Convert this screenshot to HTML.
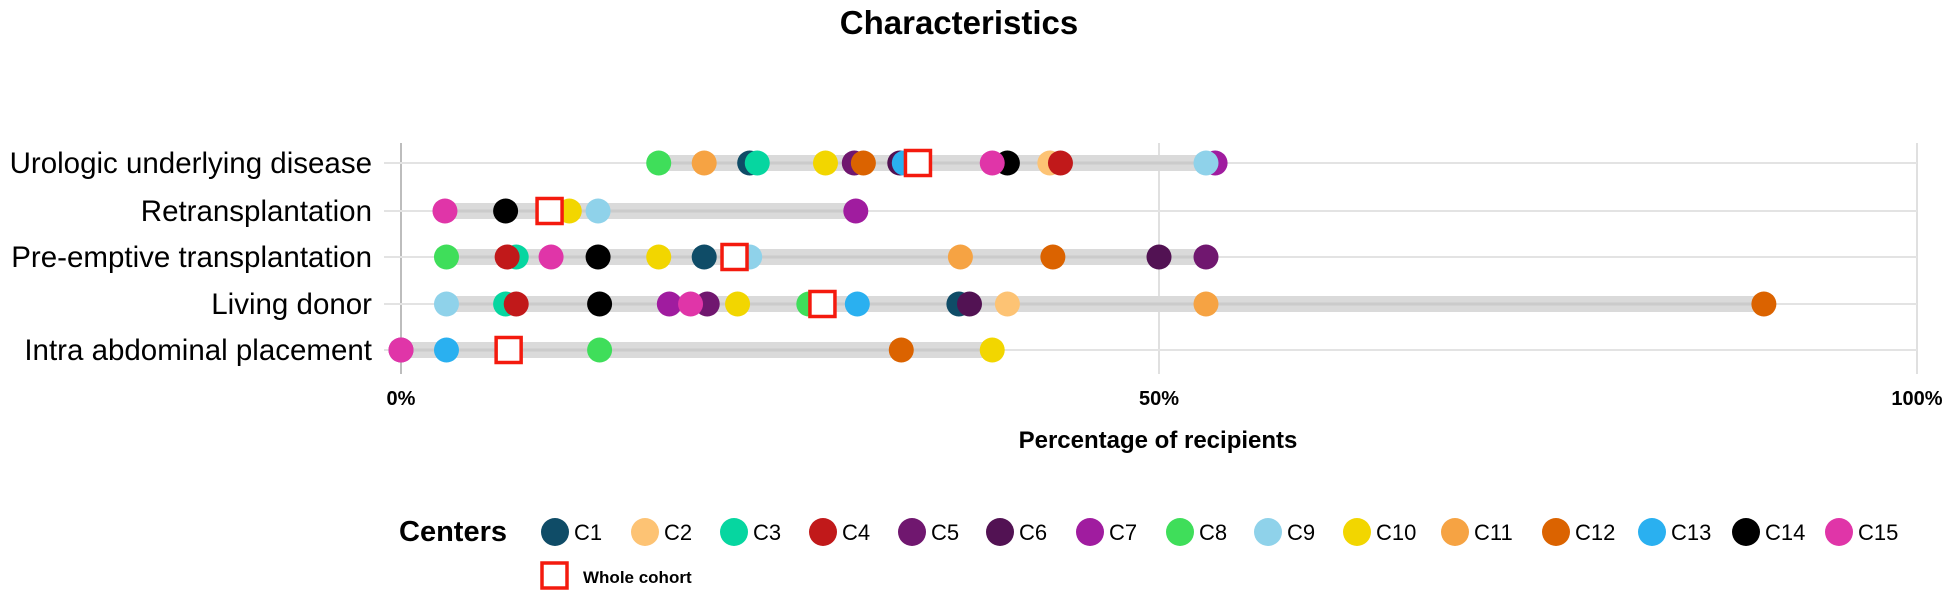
<!DOCTYPE html>
<html><head><meta charset="utf-8"><style>
html,body{margin:0;padding:0;background:#fff;}
svg{display:block;font-family:"Liberation Sans",sans-serif;}
</style></head><body>
<svg id="chart" width="1955" height="595" viewBox="0 0 1955 595" xmlns="http://www.w3.org/2000/svg">
<text x="959" y="34" text-anchor="middle" font-size="33" font-weight="bold">Characteristics</text>
<g id="grid"></g><g id="rows"></g><g id="legend"></g>
<text x="1158" y="448" text-anchor="middle" font-size="24" font-weight="bold">Percentage of recipients</text>
</svg>
<script>
const categories = ["Urologic underlying disease","Retransplantation","Pre-emptive transplantation","Living donor","Intra abdominal placement"];
const centers = ["C1","C2","C3","C4","C5","C6","C7","C8","C9","C10","C11","C12","C13","C14","C15"];
const colors = ["#0f4c67","#fdc374","#06d6a0","#c1191a","#70176f","#521253","#a01c9f","#3fde5a","#8fd2ea","#f2d600","#f6a343","#db6300","#2ab0f0","#000000","#e035a8"];
// values per center, per category (null = not shown)
const urologic  = [23.0,42.8,23.5,43.5,29.9,32.9,53.7,17.0,53.1,28.0,20.0,30.5,33.2,40.0,39.0];
const retrans   = [null,null,null,null,null,null,30.0,null,13.0,11.1,null,null,null,6.9,2.9];
const preempt   = [20.0,null,7.6,7.0,53.1,50.0,null,3.0,23.0,17.0,36.9,43.0,null,13.0,9.9];
const living    = [36.8,40.0,6.9,7.6,20.2,37.5,17.7,26.9,3.0,22.2,53.1,89.9,30.1,13.1,19.1];
const intra     = [null,null,null,null,null,null,0.0,13.1,null,39.0,null,33.0,3.0,null,0.0];
const series = [urologic,retrans,preempt,living,intra];
const cohort = [34.1,9.8,22.0,27.8,7.1];
const tickValues = [0,50,100];
const tickLabels = ["0%","50%","100%"];

const NS="http://www.w3.org/2000/svg";
const x0=401,x1=1917;
const xs=v=>x0+(x1-x0)*v/100;
const rowY=[163,211,257,304,350];
function mk(tag,attrs,parent,txt){const e=document.createElementNS(NS,tag);for(const k in attrs)e.setAttribute(k,attrs[k]);if(txt!==undefined)e.textContent=txt;parent.appendChild(e);return e;}
const grid=document.getElementById('grid'),rows=document.getElementById('rows'),legend=document.getElementById('legend');
tickValues.forEach((t,i)=>{
  const l=mk('line',{x1:xs(t),x2:xs(t),y1:143,y2:374,stroke:t===0?'#bdbdbd':'#e0e0e0','stroke-width':2},grid);
  
  
  const tx=mk('text',{x:xs(t),y:405,'text-anchor':'middle','font-size':20,'font-weight':'bold'},grid,tickLabels[i]);
  
  
});
categories.forEach((c,r)=>{
  const y=rowY[r];
  const g=mk('g',{},rows);
  
  
  mk('line',{x1:384,x2:1917,y1:y,y2:y,stroke:'#e3e3e3','stroke-width':2},g);
  const lab=mk('text',{x:372,y:y+10,'text-anchor':'end','font-size':29.5},g,c);
  
  
  const vals=series[r].filter(v=>v!==null).concat([cohort[r]]);
  const mn=Math.min(...vals),mx=Math.max(...vals);
  const bar=mk('rect',{x:xs(mn),y:y-8,width:xs(mx)-xs(mn),height:16,fill:'#dadada'},g);
  
  
  mk('line',{x1:xs(mn),x2:xs(mx),y1:y,y2:y,stroke:'#cbcbcb','stroke-width':3},g);
  series[r].forEach((v,i)=>{
    if(v===null)return;
    const d=mk('circle',{cx:xs(v),cy:y,r:12.5,fill:colors[i]},g);
    
    
  });
  const s=mk('rect',{x:xs(cohort[r])-12.5,y:y-12.5,width:25,height:25,fill:'#fff',stroke:'#f41a0e','stroke-width':3.5},g);
  
  
});
// legend
const lt=mk('text',{x:399,y:541,'font-size':29,'font-weight':'bold'},legend,'Centers');


const legX=[555,645,734,823,912,1000,1090,1180,1268,1357,1455,1556,1652,1746,1839];
centers.forEach((c,i)=>{
  const g=mk('g',{},legend);
  
  
  mk('circle',{cx:legX[i],cy:532,r:14,fill:colors[i]},g);
  mk('text',{x:legX[i]+19,y:540,'font-size':22},g,c);
});
const wc=mk('g',{},legend);


mk('rect',{x:542,y:563,width:25,height:25,fill:'#fff',stroke:'#f41a0e','stroke-width':3.5},wc);
mk('text',{x:583,y:583,'font-size':17,'font-weight':'bold'},wc,'Whole cohort');
</script>
</body></html>
